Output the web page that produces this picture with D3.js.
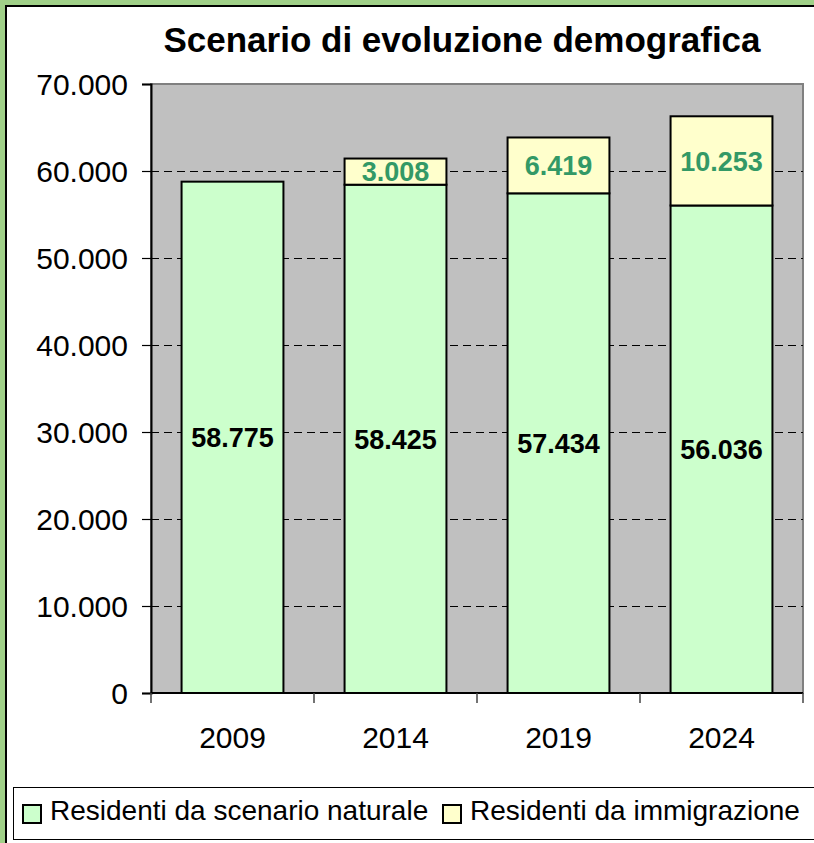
<!DOCTYPE html>
<html>
<head>
<meta charset="utf-8">
<script src="https://cdn.jsdelivr.net/npm/d3@7"></script>
<style>
    html, body { margin: 0; padding: 0; background: #fff; }
    svg { display: block; font-family: "Liberation Sans", Arial, sans-serif; }
</style>
</head>
<body>
<div id="chart"></div>
<script>
// data
const years = ["2009", "2014", "2019", "2024"];
const naturale = [58775, 58425, 57434, 56036];
const immigrazione = [0, 3008, 6419, 10253];
const yTicks = [0, 10000, 20000, 30000, 40000, 50000, 60000, 70000];
const seriesNames = ["Residenti da scenario naturale", "Residenti da immigrazione"];
const seriesColors = ["#ccffcc", "#ffffcc"];

const W = 814, H = 843;
const plot = {left: 151, top: 84, right: 803, bottom: 693};

const svg = d3.select("#chart").append("svg")
    .attr("width", W)
    .attr("height", H);

// outer frame
svg.append("rect").attr("width", W).attr("height", H).attr("fill", "#a0d088");
svg.append("rect")
    .attr("x", 5).attr("y", 5).attr("width", W + 10).attr("height", H + 10)
    .attr("fill", "#000");
svg.append("rect")
    .attr("x", 7).attr("y", 7).attr("width", W + 10).attr("height", H + 10)
    .attr("fill", "#fff");

const fmt = v => d3.format(",")(v).replace(/,/g, ".");

const x = d3.scaleBand()
    .domain(years)
    .range([plot.left, plot.right])
    .paddingInner(0.375)
    .paddingOuter(0.1875);
const xEdges = d3.scaleBand()
    .domain(years)
    .range([plot.left, plot.right]);
const y = d3.scaleLinear()
    .domain([0, 70000])
    .range([plot.bottom, plot.top]);

// plot background
svg.append("rect")
    .attr("x", plot.left).attr("y", plot.top)
    .attr("width", plot.right - plot.left).attr("height", plot.bottom - plot.top)
    .attr("fill", "#c0c0c0")
    .attr("stroke", "#808080")
    .attr("stroke-width", 2);

// dashed grid
svg.append("g")
    .attr("shape-rendering", "crispEdges")
    .selectAll("line")
    .data(yTicks.filter(d => d > 0 && d < 70000))
    .join("line")
        .attr("x1", plot.left).attr("x2", plot.right)
        .attr("y1", d => Math.round(y(d)) + 0.5).attr("y2", d => Math.round(y(d)) + 0.5)
        .attr("stroke", "#000")
        .attr("stroke-dasharray", "8,5");

// axes
const yAxis = svg.append("g")
    .attr("transform", `translate(${plot.left},0)`)
    .call(d3.axisLeft(y).tickValues(yTicks).tickFormat(fmt).tickSize(9).tickPadding(14));
yAxis.select(".domain").attr("stroke", "#000").attr("stroke-width", 2);
yAxis.selectAll(".tick line").attr("stroke", "#000").attr("stroke-width", 1.2);
yAxis.selectAll("text").attr("font-size", "30px").attr("fill", "#000").attr("dy", "0.36em");

const xAxis = svg.append("g")
    .attr("transform", `translate(0,${plot.bottom})`);
xAxis.append("line")
    .attr("x1", plot.left).attr("x2", plot.right)
    .attr("stroke", "#000").attr("stroke-width", 2);
xAxis.selectAll(".edge")
    .data([...years.map(d => xEdges(d)), plot.right])
    .join("line")
        .attr("class", "edge")
        .attr("x1", d => d).attr("x2", d => d)
        .attr("y1", 0).attr("y2", 10)
        .attr("stroke", "#444").attr("stroke-width", 1.5);
xAxis.selectAll("text")
    .data(years)
    .join("text")
        .attr("x", d => x(d) + x.bandwidth() / 2)
        .attr("y", 55)
        .attr("text-anchor", "middle")
        .attr("font-size", "30px")
        .text(d => d);

// stacked bars
const rows = years.map((yr, i) => ({year: yr, nat: naturale[i], imm: immigrazione[i]}));
const bars = svg.append("g");
bars.selectAll(".nat")
    .data(rows)
    .join("rect")
        .attr("class", "nat")
        .attr("x", d => x(d.year))
        .attr("y", d => y(d.nat))
        .attr("width", x.bandwidth())
        .attr("height", d => y(0) - y(d.nat))
        .attr("fill", seriesColors[0])
        .attr("stroke", "#000")
        .attr("stroke-width", 2);
bars.selectAll(".imm")
    .data(rows.filter(d => d.imm > 0))
    .join("rect")
        .attr("class", "imm")
        .attr("x", d => x(d.year))
        .attr("y", d => y(d.nat + d.imm))
        .attr("width", x.bandwidth())
        .attr("height", d => y(d.nat) - y(d.nat + d.imm))
        .attr("fill", seriesColors[1])
        .attr("stroke", "#000")
        .attr("stroke-width", 2);

// value labels
bars.selectAll(".natLabel")
    .data(rows)
    .join("text")
        .attr("x", d => x(d.year) + x.bandwidth() / 2)
        .attr("y", d => (y(0) + y(d.nat)) / 2)
        .attr("dy", "0.36em")
        .attr("text-anchor", "middle")
        .attr("font-size", "27px")
        .attr("font-weight", "bold")
        .text(d => fmt(d.nat));
bars.selectAll(".immLabel")
    .data(rows.filter(d => d.imm > 0))
    .join("text")
        .attr("x", d => x(d.year) + x.bandwidth() / 2)
        .attr("y", d => (y(d.nat) + y(d.nat + d.imm)) / 2)
        .attr("dy", "0.36em")
        .attr("text-anchor", "middle")
        .attr("font-size", "27px")
        .attr("font-weight", "bold")
        .attr("fill", "#339966")
        .text(d => fmt(d.imm));

// title
svg.append("text")
    .attr("x", 462).attr("y", 52)
    .attr("text-anchor", "middle")
    .attr("font-size", "35px")
    .attr("font-weight", "bold")
    .text("Scenario di evoluzione demografica");

// legend
const legend = svg.append("g");
legend.append("rect")
    .attr("x", 13.5).attr("y", 787.5).attr("width", W).attr("height", 52)
    .attr("fill", "#fff").attr("stroke", "#000");
const legX = [23, 443];
legend.selectAll(".sw")
    .data(seriesNames)
    .join("rect")
        .attr("class", "sw")
        .attr("x", (d, i) => legX[i]).attr("y", 805)
        .attr("width", 18).attr("height", 18)
        .attr("fill", (d, i) => seriesColors[i])
        .attr("stroke", "#000").attr("stroke-width", 2);
legend.selectAll(".lt")
    .data(seriesNames)
    .join("text")
        .attr("class", "lt")
        .attr("x", (d, i) => legX[i] + 27).attr("y", 820)
        .attr("font-size", "28px")
        .text(d => d);
</script>
</body>
</html>
